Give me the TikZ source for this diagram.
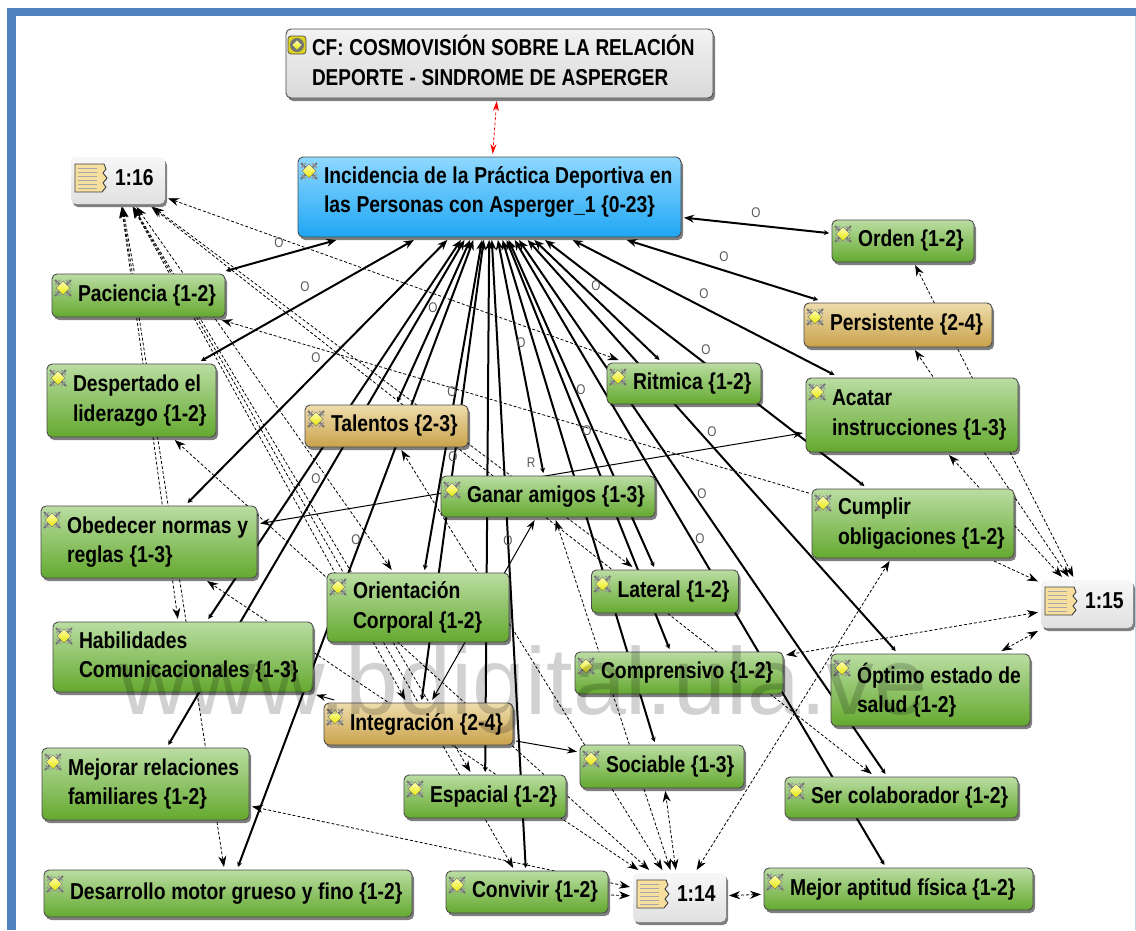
\documentclass[tikz,border=0pt]{standalone}
\usepackage{fontspec}
\setmainfont[FakeStretch=0.84]{Liberation Sans}
\newfontfamily\wmfont{Liberation Sans}
\newfontfamily\capfont[FakeStretch=0.826]{Liberation Sans}
\usetikzlibrary{arrows.meta,backgrounds,shadows}

\definecolor{frameblue}{HTML}{4F81BD}
\definecolor{boxgreen}{HTML}{64A92F}
\definecolor{boxgreenl}{HTML}{BADDA2}
\definecolor{boxgold}{HTML}{C9A24C}
\definecolor{boxgoldl}{HTML}{EEDDAC}
\definecolor{boxblue}{HTML}{1FA6F4}
\definecolor{boxbluel}{HTML}{8FD8FF}
\definecolor{parch}{HTML}{F7DFA0}

\tikzset{
	codebox/.style 2 args={rectangle, rounded corners=5pt, draw=black!70, line width=.9pt,
		minimum width=#1pt, minimum height=#2pt, text width=#1pt-8pt, inner sep=4pt, outer sep=3pt,
		font=\fontsize{23}{29.5}\selectfont\bfseries, align=left,
		execute at begin node={\leftskip=22pt\rightskip=-80pt plus 1fil\spaceskip=5.7pt},
		drop shadow={shadow xshift=2pt, shadow yshift=-3pt, fill=black, opacity=.5}},
	kgreen/.style={top color=boxgreenl, bottom color=boxgreen},
	kgold/.style={top color=boxgoldl, bottom color=boxgold},
	kblue/.style={top color=boxbluel, bottom color=boxblue},
	kgray/.style={top color=white!95!black, bottom color=white!85!black,
		font=\capfont\fontsize{23}{29.5}\selectfont\bfseries},
	kquote/.style={top color=white!97!black, bottom color=white!88!black, draw=none,
		execute at begin node={\leftskip=40pt}},
	lnkmain/.style={line width=2pt, {Stealth[length=5pt,width=5pt]}-{Stealth[length=10pt,width=8pt]}},
	lnkthin/.style={line width=1pt, {Stealth[length=10pt,width=7pt]}-{Stealth[length=10pt,width=7pt]}},
	lnkthinone/.style={line width=1pt, -{Stealth[length=10pt,width=7pt]}},
	lnkq/.style={line width=.8pt, densely dashed, {Stealth[length=11pt,width=8pt]}-{Stealth[length=11pt,width=8pt]}},
	lnkqone/.style={line width=.8pt, densely dashed, -{Stealth[length=11pt,width=8pt]}},
	lnklabel/.style={inner sep=0pt, text=black!65, font=\fontsize{14}{14}\selectfont},
	kicon/.pic={
		\draw [black!55, line width=2pt] (-8,-8) -- (8,8) (-8,8) -- (8,-8);
		\draw [black!40, line width=1.2pt] (-8,-3) -- (-3,-8) (3,-8) -- (8,-3) (-8,3) -- (-3,8) (3,8) -- (8,3);
		\draw [top color=yellow!30!white, bottom color=yellow!90!black, draw=black!50, line width=.5pt]
		(0,-7) -- (7,0) -- (0,7) -- (-7,0) -- cycle;
	},
	cficon/.pic={
		\draw [fill=yellow!85!black, draw=black!70, line width=.7pt, rounded corners=3pt] (-9,-9) rectangle (9,9);
		\draw [fill=black!55, draw=none] (0,0) circle (7);
		\draw [top color=yellow!30!white, bottom color=yellow!90!black, draw=black!50, line width=.5pt]
		(0,-5) -- (5,0) -- (0,5) -- (-5,0) -- cycle;
	},
	qicon/.pic={
		\draw [fill=parch, draw=black!75, line width=.9pt] (-16,-14) -- (13,-14) -- (15,-9) -- (12,-5) -- (16,0)
		-- (12,5) -- (15,9) -- (11,14) -- (-16,14) -- cycle;
		\foreach \ly in {-10,-6,...,10}{
			\draw [black!35, line width=.4pt] (-13,\ly) -- (6,\ly);
			}
	}
}

\begin{document}
\begin{tikzpicture}[x=1pt,y=-1pt]
\useasboundingbox (0,0) rectangle (1136,930);

\node [codebox={427}{69}, kgray] (cf) at (499.5,63.5) {CF: COSMOVISIÓN SOBRE LA RELACIÓN\\DEPORTE - SINDROME DE ASPERGER\par\nointerlineskip\vbox to 6pt{}};
\node [codebox={383}{80}, kblue] (main) at (489.5,197) {Incidencia de la Práctica Deportiva en\\las Personas con Asperger\_1 \{0-23\}\par\nointerlineskip\vbox to 10pt{}};
\node [codebox={94}{47}, kquote] (qa) at (118,180.5) {\raisebox{7pt}{1:16}};
\node [codebox={92}{48}, kquote] (qb) at (1087,604) {\raisebox{7pt}{1:15}};
\node [codebox={93}{49}, kquote] (qc) at (679.5,897.5) {\raisebox{7pt}{1:14}};

\node [codebox={173}{43}, kgreen] (paciencia) at (138.5,295.5) {Paciencia \{1-2\}};
\node [codebox={169}{73}, kgreen] (despertado) at (131.5,400.5) {Despertado el\\liderazgo \{1-2\}};
\node [codebox={163}{42}, kgold] (talentos) at (386.5,426) {Talentos \{2-3\}};
\node [codebox={216}{72}, kgreen] (obedecer) at (149,542) {Obedecer normas y\\reglas \{1-3\}};
\node [codebox={142}{42}, kgreen] (orden) at (903,241) {Orden \{1-2\}};
\node [codebox={188}{44}, kgold] (persistente) at (898,325) {Persistente \{2-4\}};
\node [codebox={154}{41}, kgreen] (ritmica) at (684,383.5) {Ritmica \{1-2\}};
\node [codebox={212}{74}, kgreen] (acatar) at (912,415) {Acatar\\instrucciones \{1-3\}};
\node [codebox={202}{69}, kgreen] (cumplir) at (913,523.5) {Cumplir\\obligaciones \{1-2\}};
\node [codebox={147}{43}, kgreen] (lateral) at (665,591.5) {Lateral \{1-2\}};
\node [codebox={208}{42}, kgreen] (comprensivo) at (679,673) {Comprensivo \{1-2\}};
\node [codebox={199}{72}, kgreen] (optimo) at (930.5,690) {Óptimo estado de\\salud \{1-2\}};
\node [codebox={164}{43}, kgreen] (sociable) at (662,766.5) {Sociable \{1-3\}};
\node [codebox={233}{41}, kgreen] (ser) at (901.5,797.5) {Ser colaborador \{1-2\}};
\node [codebox={269}{42}, kgreen] (mejor) at (898.5,889) {Mejor aptitud física \{1-2\}};
\node [codebox={162}{42}, kgreen] (convivir) at (527,892) {Convivir \{1-2\}};
\node [codebox={214}{41}, kgreen] (ganar) at (548,496.5) {Ganar amigos \{1-3\}};
\node [codebox={182}{69}, kgreen] (orientacion) at (418,607.5) {Orientación\\Corporal \{1-2\}};
\node [codebox={260}{70}, kgreen] (habilidades) at (183,657) {Habilidades\\Comunicacionales \{1-3\}};
\node [codebox={189}{42}, kgold] (integracion) at (418.5,724) {Integración \{2-4\}};
\node [codebox={162}{43}, kgreen] (espacial) at (485,796.5) {Espacial \{1-2\}};
\node [codebox={207}{72}, kgreen] (mejorar) at (145.5,784) {Mejorar relaciones\\familiares \{1-2\}};
\node [codebox={368}{47}, kgreen] (desarrollo) at (228,893.5) {Desarrollo motor grueso y fino \{1-2\}};

\pic at (cf.north west) [shift={(14,19)}] {cficon};
\foreach \n in {main,paciencia,despertado,talentos,obedecer,orden,persistente,ritmica,acatar,cumplir,lateral,comprensivo,optimo,sociable,ser,mejor,convivir,ganar,orientacion,habilidades,integracion,espacial,mejorar,desarrollo}{
	\pic at (\n.north west) [shift={(14,17)}] {kicon};
	}
\foreach \n in {qa,qb,qc}{
	\pic at (\n.north west) [shift={(23,24)}] {qicon};
	}

\begin{scope}[on background layer]
\fill [white] (0,0) rectangle (1136,930);
\fill [frameblue] (7,8) rectangle (1136,16);
\fill [frameblue] (7,8) rectangle (16,930);
\draw [frameblue!35] (1135,16) -- (1135,930);

\draw [red, line width=.8pt, densely dashed, {Stealth[length=10pt,width=6pt]}-{Stealth[length=10pt,width=6pt]}] (cf) -- (main);

\foreach \n in {paciencia,despertado,talentos,obedecer,orden,persistente,ritmica,acatar,cumplir,lateral,comprensivo,optimo,sociable,ser,mejor,convivir,ganar,orientacion,habilidades,integracion,espacial,mejorar,desarrollo}{
	\draw [lnkmain] (\n) -- (main);
	}

\foreach \n in {habilidades,desarrollo,orientacion,integracion,espacial,convivir,lateral,ritmica,ser}{
	\draw [lnkq] (qa) -- (\n);
	}
\draw [lnkqone] (paciencia) -- (qa);
\draw [lnkqone] (cumplir) -- (paciencia);

\foreach \n in {orden,persistente,acatar,comprensivo,optimo}{
	\draw [lnkq] (qb) -- (\n);
	}
\draw [lnkqone] (cumplir) -- (qb);

\foreach \n in {obedecer,despertado,talentos,ganar,sociable,cumplir,mejor,mejorar}{
	\draw [lnkq] (qc) -- (\n);
	}
\draw [lnkqone] (convivir) -- (qc);

\draw [lnkthin] (obedecer) -- (acatar);
\draw [lnkthin] (ganar) -- (integracion);
\draw [lnkthinone] (integracion) -- (sociable);
\draw [lnkthinone] (integracion) -- (habilidades);

\foreach \lx/\ly [count=\i] in {279/243,305/287,433/308,316/358,521/343,452/392,453/457,756/213,724/257,596/286,704/294,706/350,581/390,712/432,587/431,316/479,356/540,508/541,702/494,700/539}{
	\node [lnklabel] (lbl\i) at (\lx,\ly) {O};
	}
\node [lnklabel] (lblr) at (531,463) {R};
\end{scope}

\node [text=black, text opacity=.18, font=\wmfont\fontsize{95}{95}\selectfont, inner sep=0pt] (mark) at (523,690) {www.bdigital.ula.ve};

\end{tikzpicture}
\end{document}
